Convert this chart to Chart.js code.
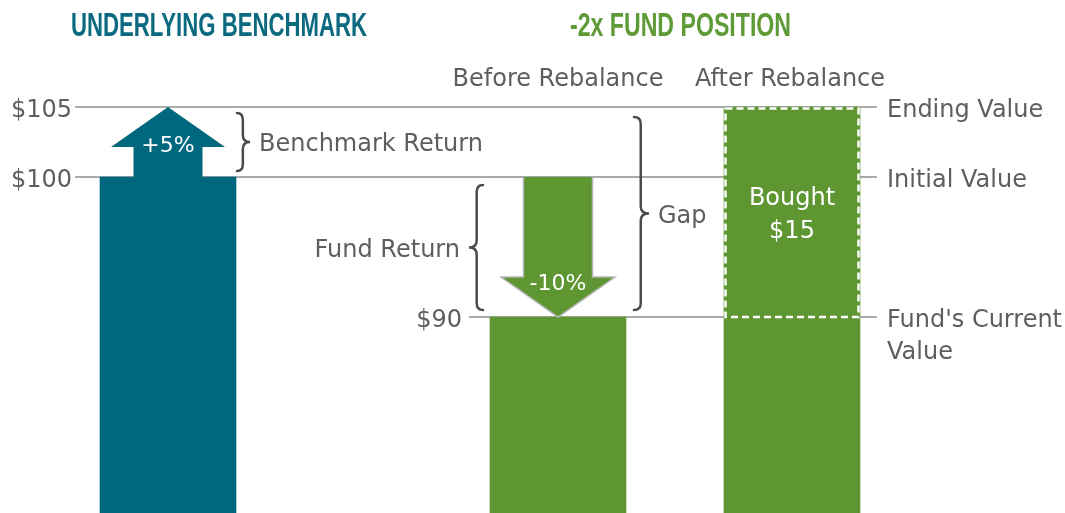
<!DOCTYPE html>
<html lang="en">
<head>
<meta charset="utf-8">
<script src="https://cdn.jsdelivr.net/npm/chart.js@4.4.1/dist/chart.umd.min.js"></script>
<style>
  html, body { margin: 0; padding: 0; background: #fff; }
  #wrap { width: 1065px; height: 513px; }
</style>
</head>
<body>
<div id="wrap"><canvas id="myChart" width="1065" height="513"></canvas></div>
<script>
// --- data ---
var categories = ['', 'Underlying Benchmark', '', '', '', '', 'Before Rebalance', '', '', 'After Rebalance'];
var positionValues = [null, 100, null, null, null, null, 90, null, null, 90];
var boughtValues = [null, null, null, null, null, null, null, null, null, [90, 105]];
var boughtLabel = ['Bought', '$15'];

var refLineValues = [105, 100, 90];
var refTickLabels = ['$105', '$100', '$90'];
var refLineNames = [['Ending Value'], ['Initial Value'], ["Fund's Current", 'Value']];

var arrowCats = [1, 6];
var arrowFrom = [100, 100];
var arrowTo = [105, 90];
var arrowLabels = ['+5%', '-10%'];

var braceNames = ['Benchmark Return', 'Fund Return', 'Gap'];
var braceFrom = [105, 100, 105];
var braceTo = [100, 90, 90];

var titles = ['UNDERLYING BENCHMARK', '-2x FUND POSITION'];

// --- style ---
var TEAL = '#00687e';
var GREEN = '#5e9732';
var GREY_TXT = '#5e5e60';
var LINE = '#a9aaad';
var FONT = '"DejaVu Sans", sans-serif';

function fitText(ctx, text, x, y, w) {
    var m = ctx.measureText(text).width;
    ctx.save();
    ctx.translate(x, y);
    ctx.scale(w / m, 1);
    ctx.fillText(text, 0, 0);
    ctx.restore();
}

// curly brace, dir = 1 points right, -1 points left
function brace(ctx, xBack, y1, y2, dir, depth) {
    var xs = xBack + dir * depth * 0.45;
    var xt = xBack + dir * depth;
    var ym = (y1 + y2) / 2;
    var r = 7;
    ctx.beginPath();
    ctx.moveTo(xBack, y1);
    ctx.quadraticCurveTo(xs, y1, xs, y1 + r);
    ctx.lineTo(xs, ym - r);
    ctx.quadraticCurveTo(xs, ym, xt, ym);
    ctx.quadraticCurveTo(xs, ym, xs, ym + r);
    ctx.lineTo(xs, y2 - r);
    ctx.quadraticCurveTo(xs, y2, xBack, y2);
    ctx.stroke();
}

var annot = {
    id: 'annot',
    beforeDatasetsDraw: function (chart) {
        var ctx = chart.ctx, y = chart.scales.y;
        var bars = chart.getDatasetMeta(0).data;
        var before = bars[6], after = bars[9];
        var lineEnd = after.x + after.width / 2 + 17;
        ctx.save();
        ctx.strokeStyle = LINE;
        ctx.lineWidth = 2;
        refLineValues.forEach(function (v, i) {
            var py = Math.round(y.getPixelForValue(v));
            var start = i < 2 ? chart.chartArea.left + 24 : before.x - before.width / 2 - 21;
            ctx.beginPath();
            ctx.moveTo(start, py);
            ctx.lineTo(lineEnd, py);
            ctx.stroke();
        });
        ctx.restore();
    },
    afterDatasetsDraw: function (chart) {
        var ctx = chart.ctx, y = chart.scales.y;
        var bars = chart.getDatasetMeta(0).data;
        var bench = bars[1], before = bars[6], after = bars[9];
        var lineEnd = after.x + after.width / 2 + 17;
        ctx.save();

        // arrows
        arrowCats.forEach(function (c, i) {
            var b = bars[c];
            var y0 = y.getPixelForValue(arrowFrom[i]);
            var y1 = y.getPixelForValue(arrowTo[i]);
            var dir = y1 < y0 ? -1 : 1;
            var headBase = y1 - dir * 40;
            var sh = 34.5, hh = 57;
            ctx.beginPath();
            ctx.moveTo(b.x - sh, y0);
            ctx.lineTo(b.x - sh, headBase);
            ctx.lineTo(b.x - hh, headBase);
            ctx.lineTo(b.x, y1);
            ctx.lineTo(b.x + hh, headBase);
            ctx.lineTo(b.x + sh, headBase);
            ctx.lineTo(b.x + sh, y0);
            if (dir < 0) {
                ctx.fillStyle = TEAL;
                ctx.fill();
            } else {
                ctx.fillStyle = GREEN;
                ctx.fill();
                ctx.strokeStyle = '#b5b5b7';
                ctx.lineWidth = 1.5;
                ctx.stroke();
            }
            ctx.fillStyle = '#ffffff';
            ctx.font = '22px ' + FONT;
            ctx.textAlign = 'center';
            ctx.textBaseline = 'alphabetic';
            ctx.fillText(arrowLabels[i], b.x, dir < 0 ? y1 + 45 : y1 - 27);
        });

        // bought box dashed outline
        var bt = y.getPixelForValue(boughtValues[9][1]);
        var bb = y.getPixelForValue(boughtValues[9][0]);
        ctx.strokeStyle = '#ffffff';
        ctx.lineWidth = 2.5;
        ctx.setLineDash([7, 4]);
        ctx.strokeRect(after.x - after.width / 2 + 1.5, bt + 1.5, after.width - 3, bb - bt - 1.5);
        ctx.setLineDash([]);
        ctx.fillStyle = '#ffffff';
        ctx.font = '24px ' + FONT;
        ctx.textAlign = 'center';
        var mid = (bt + bb) / 2;
        ctx.fillText(boughtLabel[0], after.x, mid - 7);
        ctx.fillText(boughtLabel[1], after.x, mid + 26);

        // braces
        ctx.strokeStyle = '#4b4b4d';
        ctx.lineWidth = 2.5;
        ctx.lineCap = 'round';
        var bx = [bench.x + bench.width / 2 + 1, before.x - before.width / 2 - 7, before.x + before.width / 2 + 8];
        var bdir = [1, -1, 1];
        var bdepth = [13, 14, 15];
        var inset = [[6, 6], [8, 7], [10, 7]];
        ctx.fillStyle = GREY_TXT;
        ctx.font = '24px ' + FONT;
        braceNames.forEach(function (n, i) {
            var ya = y.getPixelForValue(braceFrom[i]) + inset[i][0];
            var yb = y.getPixelForValue(braceTo[i]) - inset[i][1];
            brace(ctx, bx[i], ya, yb, bdir[i], bdepth[i]);
            var tip = bx[i] + bdir[i] * bdepth[i];
            ctx.textAlign = bdir[i] > 0 ? 'left' : 'right';
            ctx.fillText(n, tip + bdir[i] * 9, (ya + yb) / 2 + 9);
        });

        // reference line labels
        refLineValues.forEach(function (v, i) {
            var py = y.getPixelForValue(v);
            ctx.textAlign = 'right';
            var tx = i < 2 ? chart.chartArea.left + 21 : before.x - before.width / 2 - 28;
            ctx.fillText(refTickLabels[i], tx, py + 10);
            ctx.textAlign = 'left';
            refLineNames[i].forEach(function (s, k) {
                ctx.fillText(s, lineEnd + 10, py + 10 + k * 32);
            });
        });

        // column headers
        ctx.textAlign = 'center';
        ctx.fillText(categories[6], before.x, 86);
        ctx.fillText(categories[9], after.x - 2, 86);

        // titles
        ctx.textAlign = 'left';
        ctx.font = 'bold 33px "Liberation Sans Narrow", "Liberation Sans", sans-serif';
        ctx.fillStyle = '#0b6a80';
        fitText(ctx, titles[0], 71, 36, 296);
        ctx.fillStyle = '#5e9a35';
        fitText(ctx, titles[1], 570, 36, 221);

        ctx.restore();
    }
};

var ctx = document.getElementById('myChart').getContext('2d');
var myChart = new Chart(ctx, {
    type: 'bar',
    data: {
        labels: categories,
        datasets: [{
            data: positionValues,
            backgroundColor: [GREEN, TEAL, GREEN, GREEN, GREEN, GREEN, GREEN, GREEN, GREEN, GREEN],
            barThickness: 136,
            grouped: false,
            borderWidth: 0,
            clip: false
        }, {
            data: boughtValues,
            backgroundColor: GREEN,
            barThickness: 136,
            grouped: false,
            borderWidth: 0,
            clip: false
        }]
    },
    options: {
        responsive: false,
        animation: false,
        layout: { padding: { left: 51, right: 234, top: 107, bottom: 0 } },
        plugins: { legend: { display: false }, tooltip: { enabled: false } },
        scales: {
            x: { display: false },
            y: { display: false, min: 76, max: 105 }
        }
    },
    plugins: [annot]
});
</script>
</body>
</html>
